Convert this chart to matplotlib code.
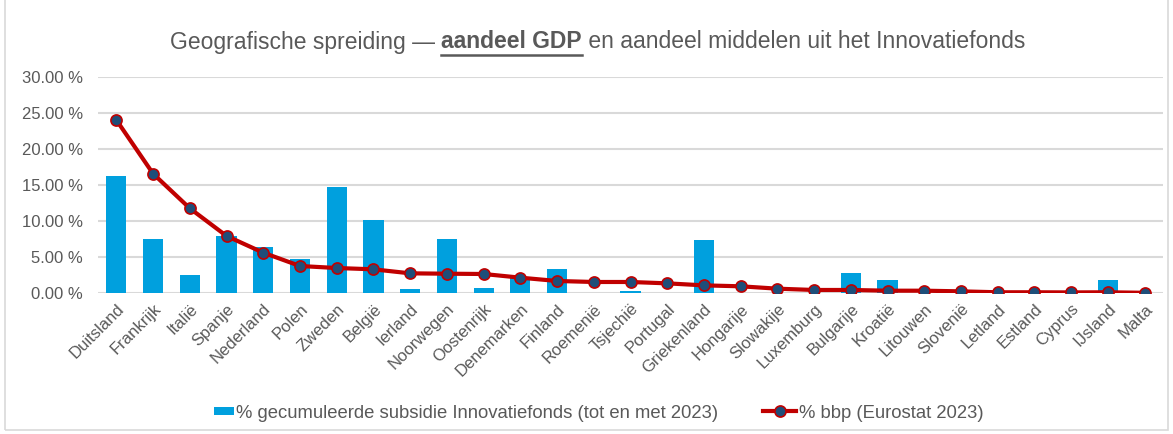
import numpy as np
import matplotlib.pyplot as plt
from matplotlib.patches import Rectangle
from matplotlib.lines import Line2D
from matplotlib.legend_handler import HandlerPatch

plt.rcParams['font.family'] = ['Liberation Sans', 'DejaVu Sans']

countries = ['Duitsland', 'Frankrijk', 'Italië', 'Spanje', 'Nederland', 'Polen',
             'Zweden', 'België', 'Ierland', 'Noorwegen', 'Oostenrijk', 'Denemarken',
             'Finland', 'Roemenië', 'Tsjechië', 'Portugal', 'Griekenland', 'Hongarije',
             'Slowakije', 'Luxemburg', 'Bulgarije', 'Kroatië', 'Litouwen', 'Slovenië',
             'Letland', 'Estland', 'Cyprus', 'IJsland', 'Malta']
subsidie = [16.25, 7.46, 2.50, 7.96, 6.35, 4.68, 14.72, 10.14, 0.55, 7.46, 0.69, 2.03,
            3.29, 0.0, 0.28, 0.0, 7.30, 0.0, 0.0, 0.0, 2.78, 1.85, 0.0, 0.0,
            0.0, 0.0, 0.0, 1.76, 0.0]
bbp = [24.03, 16.57, 11.76, 7.92, 5.60, 3.75, 3.47, 3.29, 2.73, 2.68, 2.64, 2.13,
       1.67, 1.53, 1.53, 1.34, 1.06, 0.93, 0.60, 0.42, 0.42, 0.32, 0.32, 0.23,
       0.10, 0.10, 0.08, 0.10, 0.03]
yticks = [0, 5, 10, 15, 20, 25, 30]

txt = '#595959'
fig = plt.figure(figsize=(11.73, 4.34), dpi=100)
ax = fig.add_axes([98 / 1173, 1 - 293 / 434, 1065 / 1173, 216 / 434])
x = np.arange(len(countries))

bars = ax.bar(x, subsidie, width=0.55, color='#00A0DE', zorder=2)
line, = ax.plot(x, bbp, color='#C00000', lw=3, marker='o', ms=8, mfc='#1F4E79',
                mec='#C00000', mew=1.2, zorder=3)

ax.set_xlim(-0.5, len(countries) - 0.5)
ax.set_ylim(0, 30)
ax.set_yticks(yticks)
ax.set_yticklabels(['{:.2f} %'.format(v) for v in yticks])
ax.set_xticks(x)
ax.set_xticklabels(countries, rotation=45, ha='right', rotation_mode='anchor')
ax.tick_params(length=0, labelsize=12, colors=txt)
ax.tick_params(axis='x', pad=6)
ax.tick_params(axis='y', pad=11)
ax.grid(axis='y', color='#D9D9D9', lw=1.5, zorder=0)
for s in ax.spines.values():
    s.set_visible(False)


def small_patch(legend, orig_handle, xdescent, ydescent, width, height, fontsize):
    return Rectangle((-xdescent + width * 0.4, -ydescent + height * 0.22),
                     width * 0.6, height * 0.56)


bar_handle = bars.patches[0]
fig.legend([bar_handle, line],
           ['% gecumuleerde subsidie Innovatiefonds (tot en met 2023)',
            '% bbp (Eurostat 2023)'],
           loc='center', bbox_to_anchor=(592 / 1173, 1 - 413 / 434), ncol=2,
           frameon=False, fontsize=13.3, labelcolor=txt, columnspacing=2.4,
           handlelength=1.8, handletextpad=0.15,
           handler_map={bar_handle: HandlerPatch(patch_func=small_patch)})

# title in three pieces so the middle can be bold and underlined
parts = [('Geografische spreiding — ', 'normal'), ('aandeel GDP', 'bold'),
         (' en aandeel middelen uit het Innovatiefonds', 'normal')]
r = fig.canvas.get_renderer()
texts = [fig.text(0, 1 - 42 / 434, s, fontsize=16.5, fontweight=w, color=txt, va='center')
         for s, w in parts]
widths = [t.get_window_extent(r).width for t in texts]
xpos = (1195 - sum(widths)) / 2
for t, w in zip(texts, widths):
    t.set_x(xpos / 1173)
    xpos += w
bb = texts[1].get_window_extent(r)
fig.add_artist(Line2D([bb.x0 / 1173, bb.x1 / 1173], [(bb.y0 - 1) / 434] * 2,
                      color=txt, lw=1.8))

fig.add_artist(Rectangle((5 / 1173, 4 / 434), 1163 / 1173, 440 / 434, fill=False,
                         ec='#D9D9D9', lw=1.2, transform=fig.transFigure))

fig.savefig('out.png', dpi=100)
